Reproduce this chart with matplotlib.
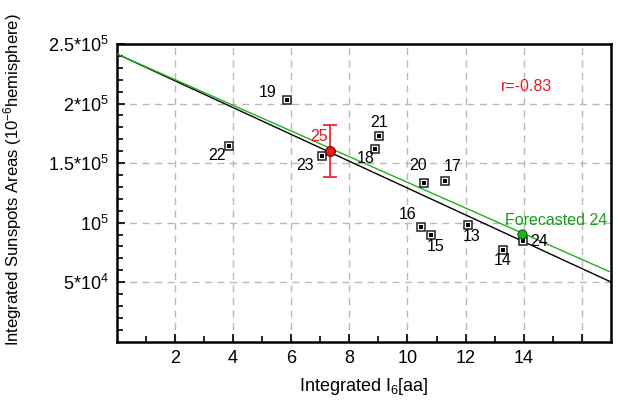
import matplotlib
matplotlib.use('Agg')
import matplotlib.pyplot as plt
import numpy as np

plt.rcParams['font.family'] = ['Liberation Sans', 'DejaVu Sans']
plt.rcParams['mathtext.fontset'] = 'custom'
plt.rcParams['mathtext.rm'] = 'Liberation Sans'
plt.rcParams['mathtext.it'] = 'Liberation Sans'

# solar cycles: integrated I6 vs integrated sunspot areas
cycles = ['13', '14', '15', '16', '17', '18', '19', '20', '21', '22', '23', '24']
i6 = [12.08, 13.28, 10.81, 10.47, 11.29, 8.90, 5.86, 10.56, 9.02, 3.86, 7.07, 13.96]
areas = [98000, 77300, 89600, 96600, 135200, 162100, 202800, 133600, 172800, 164400, 156200, 84300]
# label offsets (pixels)
lab_dx = [4, 0, 5, -14, 8, -10, -19, -6, 0, -12, -17, 17]
lab_dy = [-12, -11, -12, 12, 14, -10, 8, 17, 13, -10, -10, 0]

# cycle 25 prediction
c25_x, c25_y, c25_err = 7.34, 159900, 22000
# forecast for cycle 24
f24_x, f24_y = 13.93, 90200

# linear fits (intercept, slope)
fit_black = (241700, -11270)
fit_green = (241700, -10790)

red = '#e8191f'
green = '#1fb41f'

fig = plt.figure(figsize=(6.18, 4.01), dpi=100)
ax = fig.add_axes([0.1888, 0.1479, 0.7999, 0.7424])

xl = np.array([0, 17])
ax.plot(xl, fit_black[0] + fit_black[1] * xl, color='k', lw=1.0, zorder=3)
ax.plot(xl, fit_green[0] + fit_green[1] * xl, color=green, lw=1.0, zorder=3)

ax.plot(i6, areas, 's', ms=6, mfc='white', mec='#222222', mew=1.1, zorder=4)
ax.plot(i6, areas, 's', ms=2.3, mfc='k', mec='k', mew=0, zorder=5)
for c, x, y, dx, dy in zip(cycles, i6, areas, lab_dx, lab_dy):
    ax.annotate(c, (x, y), xytext=(dx, dy), textcoords='offset pixels',
                ha='center', va='center', fontsize=11.5, color='k', zorder=6)

ax.errorbar([c25_x], [c25_y], yerr=[c25_err], fmt='none', ecolor=red,
            elinewidth=1.2, capsize=5, capthick=1.2, zorder=6)
ax.plot([c25_x], [c25_y], 'o', ms=7, mfc=red, mec='#660000', mew=0.8, zorder=7)
ax.annotate('25', (c25_x, c25_y), xytext=(-11, 15), textcoords='offset pixels',
            ha='center', va='center', fontsize=11.5, color=red, zorder=6)

ax.plot([f24_x], [f24_y], 'o', ms=6.5, mfc=green, mec='#0a5a0a', mew=0.8, zorder=7)
ax.annotate('Forecasted 24', (f24_x, f24_y), xytext=(34, 14), textcoords='offset pixels',
            ha='center', va='center', fontsize=11.5, color='#1a9e1a', zorder=6)

ax.text(0.829, 0.856, 'r=-0.83', transform=ax.transAxes, ha='center', va='center',
        fontsize=11.5, color=red)

ax.set_xlim(0, 17)
ax.set_ylim(0, 250000)
ax.set_xticks([2, 4, 6, 8, 10, 12, 14, 16])
ax.set_xticklabels(['2', '4', '6', '8', '10', '12', '14', ''])
ax.set_xticks(np.arange(1, 17, 1), minor=True)
ax.set_yticks([50000, 100000, 150000, 200000, 250000])
ax.set_yticklabels([r'5*10$^4$', r'10$^5$', r'1.5*10$^5$', r'2*10$^5$', r'2.5*10$^5$'])
ax.set_yticks(np.arange(10000, 250000, 10000), minor=True)
ax.tick_params(which='both', direction='in', labelsize=13, width=1.2, colors='k')
ax.tick_params(which='major', length=6, pad=6)
ax.tick_params(which='minor', length=4)

ax.grid(True, which='major', ls=(0, (5, 4)), color='#b8b8b8', lw=1.0, zorder=0)
ax.set_axisbelow(True)
for s in ax.spines.values():
    s.set_linewidth(1.8)

ax.set_xlabel(r'Integrated I$_6$[aa]', fontsize=13)
ax.set_ylabel(r'Integrated Sunspots Areas (10$^{-6}$hemisphere)', fontsize=12)
ax.xaxis.set_label_coords(0.5, -0.115)
ax.yaxis.set_label_coords(-0.188, 0.543)

fig.savefig('out.png', dpi=100)
